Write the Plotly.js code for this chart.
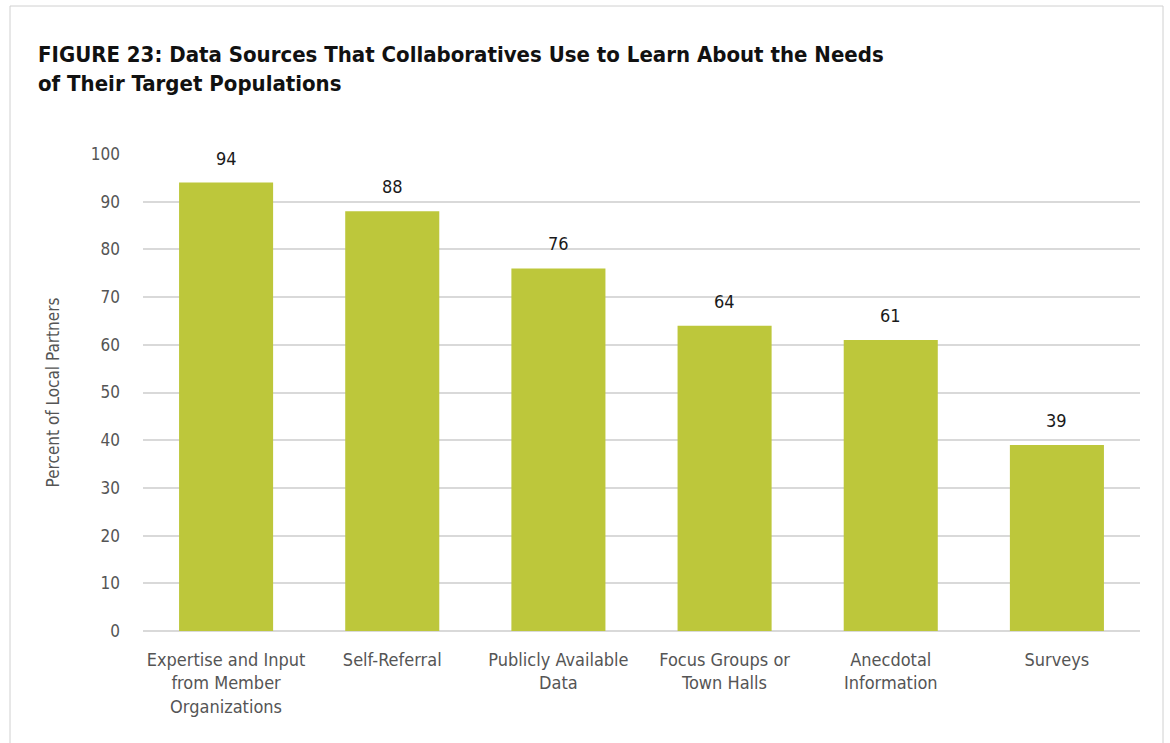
<!DOCTYPE html>
<html>
<head>
<meta charset="utf-8">
<script src="https://cdn.plot.ly/plotly-3.0.1.min.js"></script>
<style>
html,body{margin:0;padding:0;background:#fff;}
#chart{width:1170px;height:743px;}
</style>
</head>
<body>
<div id="chart"></div>
<script>
const categories = [
  "Expertise and Input<br>from Member<br>Organizations",
  "Self-Referral",
  "Publicly Available<br>Data",
  "Focus Groups or<br>Town Halls",
  "Anecdotal<br>Information",
  "Surveys"
];
const values = [94, 88, 76, 64, 61, 39];
const yTicks = [0, 10, 20, 30, 40, 50, 60, 70, 80, 90, 100];

const FONT = '"DejaVu Sans Condensed", "Liberation Sans Narrow", sans-serif';

const trace = {
  type: 'bar',
  x: categories,
  y: values,
  marker: {color: '#BDC73B'},
  hoverinfo: 'none'
};

const annotations = categories.map((c, i) => ({
  x: c, y: values[i], xref: 'x', yref: 'y',
  text: String(values[i]),
  showarrow: false, yanchor: 'bottom', yshift: 12,
  font: {family: FONT, size: 18, color: '#1a1a1a'}
}));

const layout = {
  width: 1170, height: 743,
  margin: {l: 143, r: 30, t: 154, b: 112},
  paper_bgcolor: '#fff', plot_bgcolor: '#fff',
  bargap: 0.434,
  showlegend: false,
  title: {
    text: '<b>FIGURE 23: Data Sources That Collaboratives Use to Learn About the Needs<br>of Their Target Populations</b>',
    x: 38/1170, xanchor: 'left', xref: 'container',
    y: 1 - 62/743, yanchor: 'top', yref: 'container',
    font: {family: FONT, size: 22, color: '#111'}
  },
  xaxis: {
    tickfont: {family: FONT, size: 18, color: '#555'},
    ticks: '', ticklabelstandoff: 16,
    showgrid: false, showline: false, zeroline: false,
    fixedrange: true
  },
  yaxis: {
    range: [0, 100],
    tickvals: yTicks,
    tickfont: {family: FONT, size: 17, color: '#555'},
    ticks: '', ticklabelstandoff: 22,
    showgrid: true, gridcolor: '#d9d9d9', gridwidth: 2,
    zeroline: true, zerolinecolor: '#d9d9d9', zerolinewidth: 2,
    showline: false,
    title: {text: 'Percent of Local Partners', standoff: 26,
            font: {family: FONT, size: 17, color: '#555'}}
  },
  annotations: annotations,
  shapes: [{
    type: 'rect', xref: 'paper', yref: 'paper',
    x0: (10-143)/997, x1: (1163-143)/997,
    y0: -0.5, y1: (631-6)/477,
    line: {color: '#d0d0d0', width: 1}, fillcolor: 'rgba(0,0,0,0)', layer: 'below'
  }]
};

Plotly.newPlot('chart', [trace], layout, {displayModeBar: false, staticPlot: true});
</script>
</body>
</html>
